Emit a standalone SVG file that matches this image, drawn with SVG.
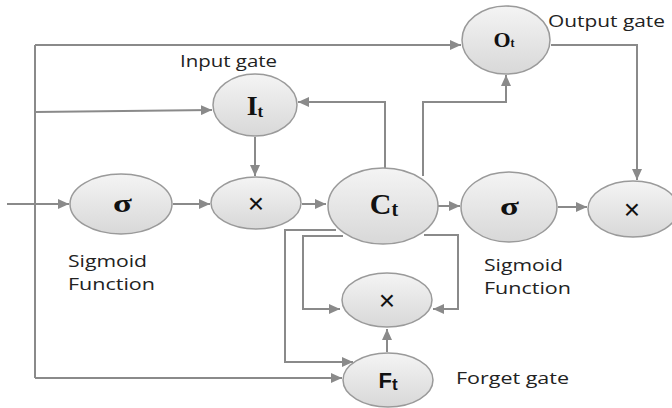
<svg xmlns="http://www.w3.org/2000/svg" width="672" height="408" viewBox="0 0 672 408">
<defs>
<linearGradient id="g" x1="0" y1="0" x2="0" y2="1">
<stop offset="0" stop-color="#f4f4f4"/>
<stop offset="1" stop-color="#d8d8d8"/>
</linearGradient>
<marker id="a" markerUnits="userSpaceOnUse" markerWidth="12" markerHeight="10" refX="11" refY="5" orient="auto">
<path d="M0,0 L11,5 L0,10 z" fill="#8a8a8a"/>
</marker>
</defs>
<style>
.n{fill:url(#g);stroke:#9a9a9a;stroke-width:1.5}
.c{fill:none;stroke:#8a8a8a;stroke-width:2}
.ar{marker-end:url(#a)}
.lbl{font-family:"Open Sans","Liberation Sans",sans-serif;font-size:16px;fill:#222}
.sr{font-family:"Liberation Serif","DejaVu Serif",serif;font-weight:bold;fill:#111}
.x{font-family:"Liberation Sans",sans-serif;font-size:28px;fill:#111}
.sb{font-family:"Liberation Sans",sans-serif;font-weight:bold;fill:#111}
</style>
<rect width="672" height="408" fill="#fff"/>
<g id="connectors">
<path class="c ar" d="M7,204 H69"/>
<path class="c" d="M35,45 V378"/>
<path class="c ar" d="M35,45 H461"/>
<path class="c ar" d="M35,112 L212,110"/>
<path class="c ar" d="M35,378 H342"/>
<path class="c ar" d="M255,137 V176"/>
<path class="c ar" d="M385,168 V102 H298"/>
<path class="c ar" d="M423,176 V102 H506 V75"/>
<path class="c ar" d="M551,45 H637 V180"/>
<path class="c ar" d="M173,204 H210"/>
<path class="c ar" d="M302,204 H326"/>
<path class="c ar" d="M438,206 H460"/>
<path class="c ar" d="M558,207 H587"/>
<path class="c ar" d="M336,230 H285 V362 H353"/>
<path class="c ar" d="M343,236 H303 V309 H340"/>
<path class="c ar" d="M424,235 H458 V309 H433"/>
<path class="c ar" d="M387,352 V329"/>
</g>
<g id="sigma1"><ellipse class="n" cx="121" cy="204" rx="51" ry="30"/><text class="sr" x="113" y="212" font-size="26" textLength="19" lengthAdjust="spacingAndGlyphs">σ</text></g>
<g id="mult1"><ellipse class="n" cx="256" cy="203" rx="45" ry="26"/><text class="x" x="256" y="213" text-anchor="middle">×</text></g>
<g id="ct"><ellipse class="n" cx="383" cy="206" rx="55" ry="38"/><text class="sr" x="384" y="214" font-size="30" text-anchor="middle">C<tspan font-size="20" dy="2">t</tspan></text></g>
<g id="sigma2"><ellipse class="n" cx="509" cy="207" rx="48" ry="35"/><text class="sr" x="500" y="215" font-size="26" textLength="19" lengthAdjust="spacingAndGlyphs">σ</text></g>
<g id="mult3"><ellipse class="n" cx="633" cy="209" rx="45" ry="28"/><text class="x" x="632" y="219" text-anchor="middle">×</text></g>
<g id="it"><ellipse class="n" cx="255" cy="105" rx="42" ry="31"/><text class="sr" x="255" y="115" font-size="28" text-anchor="middle">I<tspan font-size="17" dy="2">t</tspan></text></g>
<g id="ot"><ellipse class="n" cx="506" cy="40" rx="44" ry="34"/><text class="sr" x="504" y="47" font-size="22" text-anchor="middle">O<tspan font-size="12" dy="0">t</tspan></text></g>
<g id="mult2"><ellipse class="n" cx="387" cy="300" rx="45" ry="27"/><text class="x" x="387" y="310" text-anchor="middle">×</text></g>
<g id="ft"><ellipse class="n" cx="388" cy="380" rx="45" ry="27"/><text class="sb" x="388" y="388" font-size="22" text-anchor="middle">F<tspan font-size="17" dy="2">t</tspan></text></g>
<g id="labels">
<text class="lbl" x="180" y="67" textLength="97" lengthAdjust="spacingAndGlyphs">Input gate</text>
<text class="lbl" x="548" y="27" textLength="117" lengthAdjust="spacingAndGlyphs">Output gate</text>
<text class="lbl" x="68" y="267" textLength="79" lengthAdjust="spacingAndGlyphs">Sigmoid</text>
<text class="lbl" x="68" y="290" textLength="87" lengthAdjust="spacingAndGlyphs">Function</text>
<text class="lbl" x="484" y="271" textLength="79" lengthAdjust="spacingAndGlyphs">Sigmoid</text>
<text class="lbl" x="484" y="294" textLength="87" lengthAdjust="spacingAndGlyphs">Function</text>
<text class="lbl" x="456" y="384" textLength="113" lengthAdjust="spacingAndGlyphs">Forget gate</text>
</g>
</svg>
